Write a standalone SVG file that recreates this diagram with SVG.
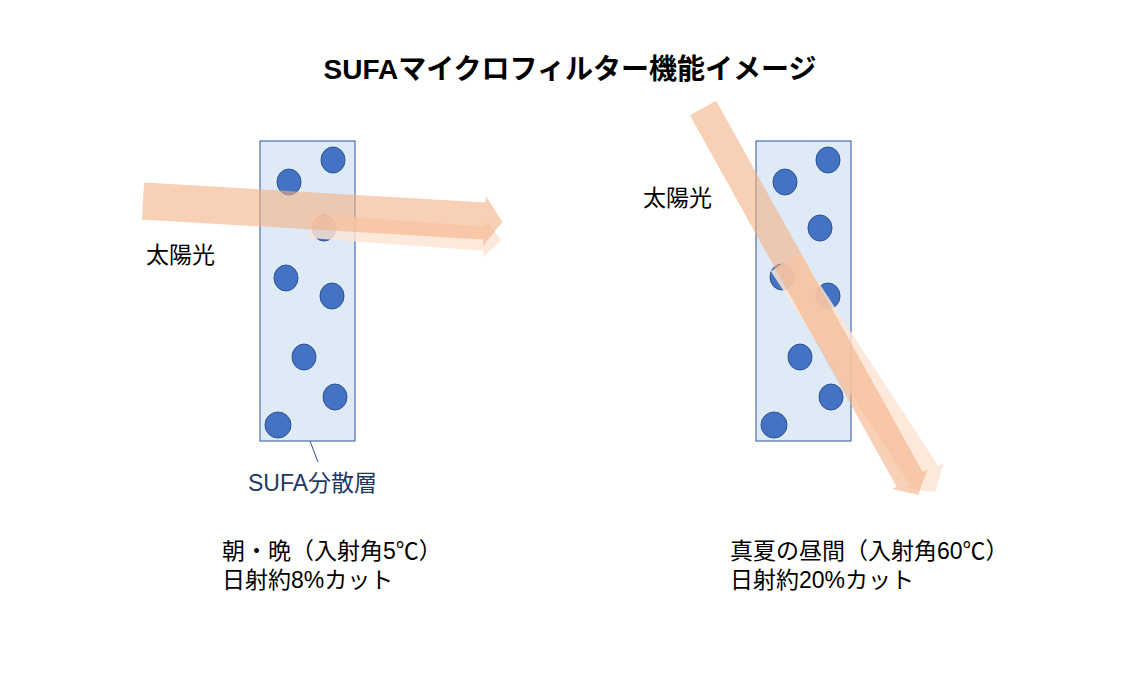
<svg xmlns="http://www.w3.org/2000/svg" width="1144" height="688" viewBox="0 0 1144 688">
<style>
text{font-family:"Liberation Sans","Noto Sans CJK JP",sans-serif;font-size:23px;fill:#000}
.box{fill:#DEEBF7;stroke:#2F5597;stroke-width:1}
.dot{fill:#4472C4;stroke:#2F528F;stroke-width:1}
.a1{fill:#F4B183;opacity:.6}
.a2{fill:#FBE5D6;opacity:.85}
</style>
<rect width="1144" height="688" fill="#fff"/>
<text x="570" y="79" text-anchor="middle" style="font-size:28px;font-weight:bold">SUFAマイクロフィルター機能イメージ</text>
<g id="filterL">
<rect class="box" x="260" y="141" width="95" height="300"/>
<ellipse class="dot" cx="333" cy="160" rx="12" ry="13"/><ellipse class="dot" cx="289" cy="182" rx="12" ry="13"/>
<ellipse class="dot" cx="324" cy="228" rx="12" ry="13"/><ellipse class="dot" cx="286" cy="278" rx="12" ry="13"/>
<ellipse class="dot" cx="332" cy="296" rx="12" ry="13"/><ellipse class="dot" cx="304" cy="357" rx="12" ry="13"/>
<ellipse class="dot" cx="335" cy="397" rx="12" ry="13"/><ellipse class="dot" cx="278" cy="425" rx="13" ry="13"/>
</g>
<g id="filterR">
<rect class="box" x="756" y="141" width="95" height="300"/>
<ellipse class="dot" cx="828" cy="160" rx="12" ry="13"/><ellipse class="dot" cx="785" cy="182" rx="12" ry="13"/>
<ellipse class="dot" cx="820" cy="228" rx="12" ry="13"/><ellipse class="dot" cx="782" cy="277" rx="12" ry="13"/>
<ellipse class="dot" cx="828" cy="296" rx="12" ry="13"/><ellipse class="dot" cx="800" cy="357" rx="12" ry="13"/>
<ellipse class="dot" cx="831" cy="397" rx="12" ry="13"/><ellipse class="dot" cx="774" cy="425" rx="13" ry="13"/>
</g>
<g id="connectors">
<polygon class="a2" transform="translate(310,226) rotate(4.2)" points="0,-12 175,-12 175,-18 192,0 175,18 175,12 0,12"/>
<polygon class="a1" transform="translate(143,201) rotate(3.35)" points="0,-18.5 342,-18.5 342,-25 360,0 342,25 342,18.5 0,18.5"/>
<polygon class="a2" transform="translate(785,262) rotate(56.9)" points="0,-17 255,-17 255,-23 275,0 255,23 255,17 0,17"/>
<polygon class="a1" transform="translate(703,108) rotate(60.9)" points="0,-15 425,-15 425,-20 443,0 425,20 425,15 0,15"/>
<line x1="310" y1="441" x2="318" y2="462" stroke="#2F5597" stroke-width="1"/>
</g>
<text x="146" y="263">太陽光</text>
<text x="643" y="206">太陽光</text>
<text x="248" y="491" style="fill:#1F3864">SUFA分散層</text>
<text x="222" y="559">朝・晩（入射角5℃）</text>
<text x="222" y="588">日射約8%カット</text>
<text x="730" y="559">真夏の昼間（入射角60℃）</text>
<text x="730" y="588">日射約20%カット</text>
</svg>
